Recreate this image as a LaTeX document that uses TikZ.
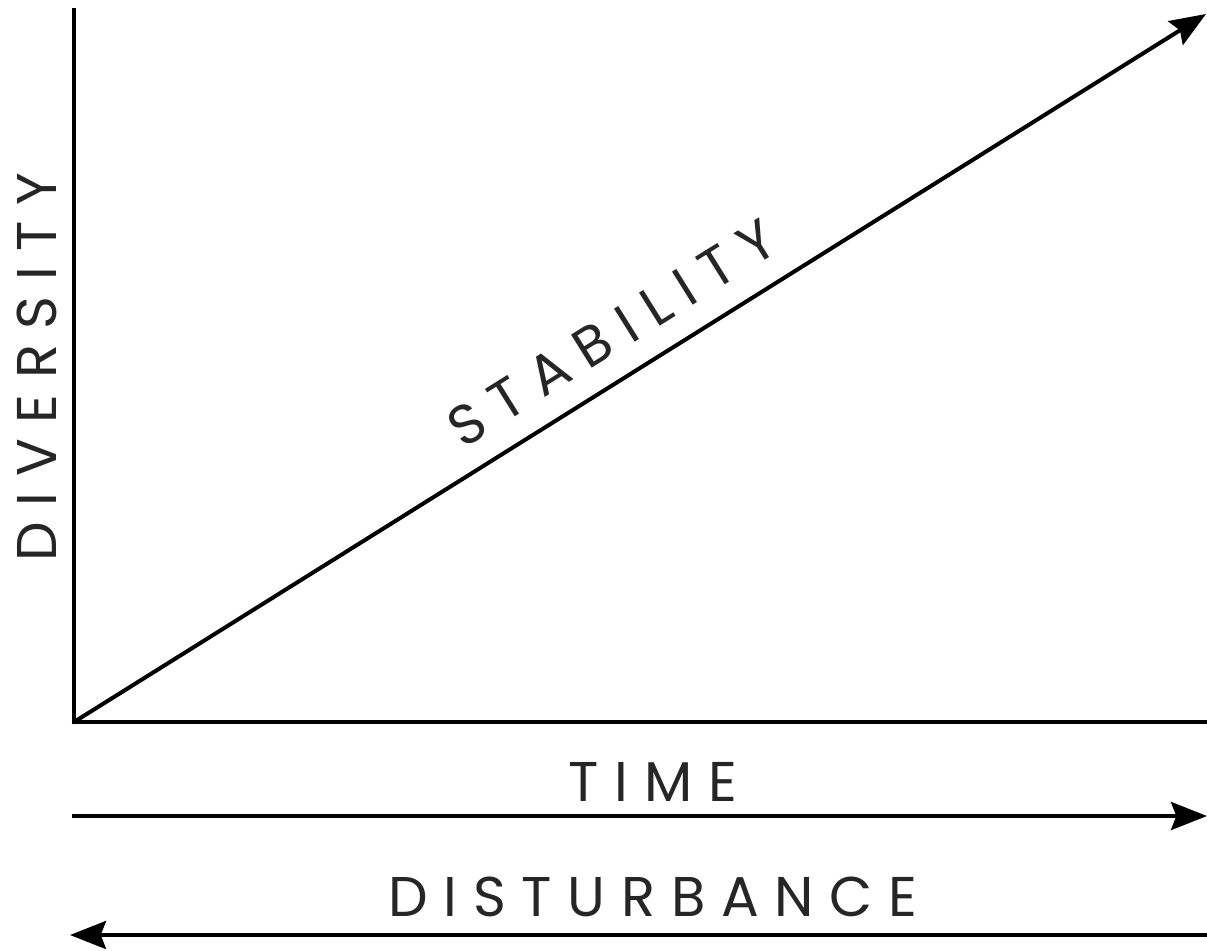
\documentclass[tikz,border=0pt]{standalone}
\usepackage{fontspec}
\setmainfont{Poppins}
\newfontfamily\lbl[LetterSpace=28]{Poppins}
\usetikzlibrary{arrows.meta}
\begin{document}
\begin{tikzpicture}[x=0.75pt,y=-0.75pt,
  axis/.style={line width=3.2pt,black},
  arr/.style={line width=3pt,black,-{Stealth[length=27pt,width=21pt,inset=4pt]}},
  lab/.style={font=\lbl\fontsize{42pt}{42pt}\selectfont,inner sep=0pt,text=black!85}]
\useasboundingbox (0,0) rectangle (1207,950);
\coordinate (ytop) at (74,10);
\coordinate (O) at (74,722);
\coordinate (xend) at (1207,722);
\coordinate (stab) at (1206,14);
\coordinate (t1) at (72,816);
\coordinate (t2) at (1207,816);
\coordinate (d1) at (1207,935);
\coordinate (d2) at (70,935);
\draw[axis,line cap=rect] (ytop) -- (O) -- (xend);
\draw[arr,shorten <=-1pt] (O) -- (stab);
\draw[arr] (t1) -- (t2);
\draw[arr] (d1) -- (d2);
\node[lab] (time) at (653,782) {TIME};
\node[lab] (dist) at (653,897) {DISTURBANCE};
\node[lab,rotate=90] (div) at (37,367) {DIVERSITY};
\node[lab,rotate=32] (stabl) at (612,333) {STABILITY};
\end{tikzpicture}
\end{document}
